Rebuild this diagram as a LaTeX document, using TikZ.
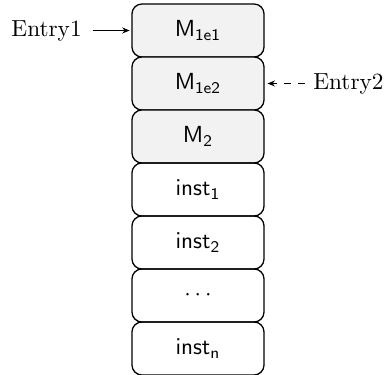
\documentclass[tikz,border=0pt]{standalone}
\usetikzlibrary{arrows.meta}
\tikzset{
  cell/.style={draw, rounded corners=4.3pt, line width=0.55pt, minimum width=56.8pt,
    minimum height=22.8pt, inner sep=0pt, outer sep=0pt, font=\sffamily},
  hot/.style={cell, fill=black!5},
  entry/.style={inner sep=0pt, font=\rmfamily},
  feed/.style={-{Stealth[length=3.2pt,width=2.6pt]}, line width=0.45pt},
}
\begin{document}
\begin{tikzpicture}[x=0.43pt, y=-0.43pt]
  \useasboundingbox (0,0) rectangle (386,375);
  % stack of cells, top to bottom
  \node[hot]  (m1) at (198,30.5)  {$\mathsf{M}_{\mathsf{1e1}}$};
  \node[hot]  (m2) at (198,83.5)  {$\mathsf{M}_{\mathsf{1e2}}$};
  \node[hot]  (m3) at (198,136.5) {$\mathsf{M}_{\mathsf{2}}$};
  \node[cell] (i1) at (198,189.5) {$\mathsf{inst}_{\mathsf{1}}$};
  \node[cell] (i2) at (198,242.5) {$\mathsf{inst}_{\mathsf{2}}$};
  \node[cell] (i3) at (198,295.5) {$\cdots$};
  \node[cell] (in) at (198,348.5) {$\mathsf{inst}_{\mathsf{n}}$};
  % entry points
  \node[entry, anchor=west] (e1) at (11,30.5) {Entry1};
  \node[entry, anchor=east] (e2) at (384,83.5) {Entry2};
  \draw[feed, shorten <=4.5pt, shorten >=1pt] (e1.east) -- (m1.west);
  \draw[feed, dashed, shorten <=3.5pt, shorten >=1.5pt] (e2.west) -- (m2.east);
\end{tikzpicture}
\end{document}
